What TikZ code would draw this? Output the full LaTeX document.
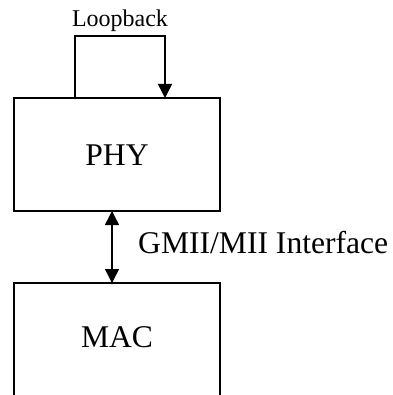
\documentclass[tikz,border=0pt]{standalone}
\usepackage{fontspec}
\setmainfont{Liberation Serif}
\usetikzlibrary{arrows.meta}
\begin{document}
\begin{tikzpicture}[x=1pt,y=-1pt,
  boxline/.style={line width=1.5pt},
  tip/.style={-{Triangle[length=14pt,width=14pt]}},
  big/.style={font=\fontsize{31.6}{36}\selectfont, inner sep=0pt, anchor=base},
  small/.style={font=\fontsize{24}{28}\selectfont, inner sep=0pt, anchor=base}]
\useasboundingbox (0,0) rectangle (392,395);
% PHY box
\draw[boxline] (14,98) rectangle (220,211);
\coordinate (phyBot) at (112,211);
\node[big] (phy) at (117,165) {PHY};
% MAC box (open bottom)
\draw[boxline] (14,395) -- (14,283) -- (220,283) -- (220,395);
\coordinate (macTop) at (112,283);
\node[big] (mac) at (117,347) {MAC};
% Loopback
\coordinate (lbA) at (75,98);
\coordinate (lbB) at (75,36);
\coordinate (lbC) at (165,36);
\coordinate (lbD) at (165,98);
\draw[boxline, tip, line join=miter] (lbA) -- (lbB) -- (lbC) -- (lbD);
\node[small] (lb) at (120,27) {Loopback};
% Interface arrow
\draw[boxline, {Triangle[length=14pt,width=14pt]}-{Triangle[length=14pt,width=14pt]}] (phyBot) -- (macTop);
\node[big, anchor=base west] (gmii) at (138,253) {GMII/MII Interface};
\end{tikzpicture}
\end{document}
